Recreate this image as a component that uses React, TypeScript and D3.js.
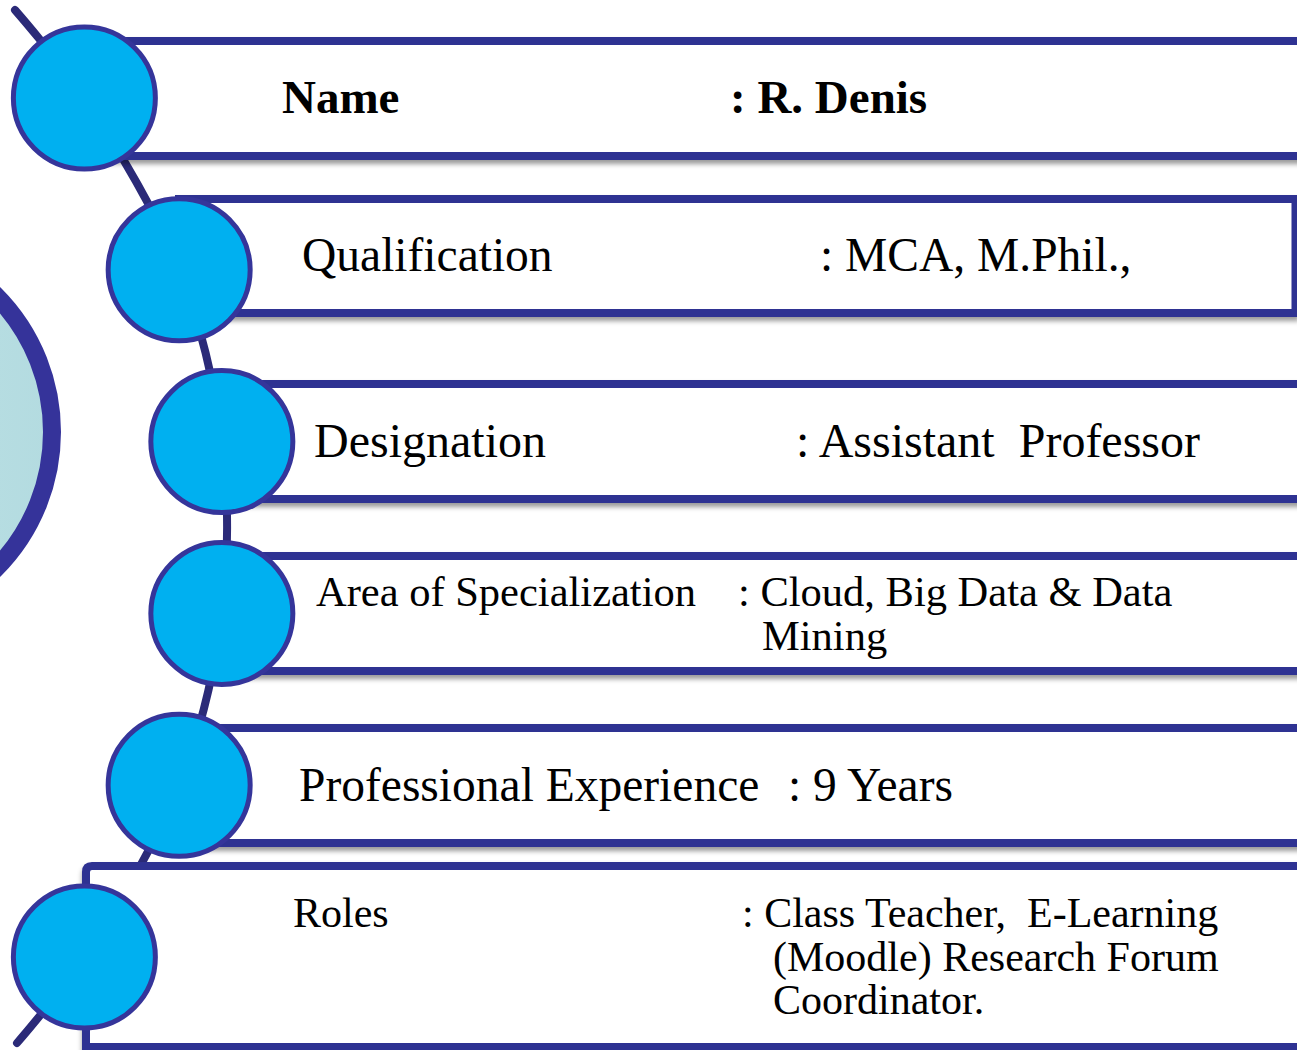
import React from 'react';
import * as d3 from 'd3';

// ---- data ----
const labels: string[] = [
  'Name',
  'Qualification',
  'Designation',
  'Area of Specialization',
  'Professional Experience',
  'Roles',
];
const values: string[][] = [
  [': R. Denis'],
  [': MCA, M.Phil.,'],
  [': Assistant  Professor'],
  [': Cloud, Big Data & Data', 'Mining'],
  [': 9 Years'],
  [': Class Teacher,  E-Learning', '(Moodle) Research Forum', 'Coordinator.'],
];

// ---- layout ----
const W = 1297;
const H = 1050;
const NAVY = '#2e3192';
const ARC = '#2b2a78';
const CIRCLE_FILL = '#00b0f0';
const CIRCLE_STROKE = '#35359a';
const FONT = "'Liberation Serif', 'Times New Roman', serif";

const ARC_CX = -491;
const ARC_CY = 527.5;
const ARC_R = 718;
const NODE_R = 71;

type RowLayout = {
  top: number;
  bottom: number;
  left: number | null;
  right: number;
  rightBorder?: boolean;
  leftBorder?: boolean;
  labelX: number;
  valueX: number;
  contX: number;
  baseline: number;
  lineGap: number;
  size: number;
  bold?: boolean;
};

const rowLayout: RowLayout[] = [
  { top: 41, bottom: 156, left: null, right: 1310, labelX: 282, valueX: 730, contX: 730, baseline: 113, lineGap: 44, size: 47, bold: true },
  { top: 199, bottom: 313, left: 175, right: 1295.5, rightBorder: true, labelX: 302, valueX: 820, contX: 820, baseline: 271, lineGap: 44, size: 47.5 },
  { top: 384, bottom: 499, left: null, right: 1310, labelX: 314, valueX: 796, contX: 796, baseline: 457, lineGap: 44, size: 48 },
  { top: 556, bottom: 671, left: null, right: 1310, labelX: 316, valueX: 738, contX: 762, baseline: 606, lineGap: 44, size: 42.5 },
  { top: 728, bottom: 843, left: null, right: 1310, labelX: 299, valueX: 788, contX: 788, baseline: 801, lineGap: 44, size: 47.5 },
  { top: 866, bottom: 1047, left: 86, right: 1310, leftBorder: true, labelX: 293, valueX: 742, contX: 773, baseline: 927, lineGap: 43.5, size: 42 },
];

const yScale = d3.scaleLinear().domain([0, labels.length - 1]).range([98, 957]);
const nodeX = (y: number) => ARC_CX + Math.sqrt(ARC_R * ARC_R - (y - ARC_CY) * (y - ARC_CY));

export default function App() {
  const nodes = labels.map((_, i) => {
    const y = yScale(i);
    return { x: nodeX(y), y };
  });

  const arcPts: [number, number][] = [
    [15, 10],
    ...nodes.map((n) => [n.x, n.y] as [number, number]),
    [17, 1043],
  ];
  const arcPath = d3.line().curve(d3.curveCatmullRom.alpha(0.5))(arcPts) || '';

  const rowPath = (r: RowLayout, left: number) => {
    const p = d3.path();
    if (r.leftBorder) {
      const rad = 6;
      p.moveTo(r.right, r.top);
      p.lineTo(left + rad, r.top);
      p.quadraticCurveTo(left, r.top, left, r.top + rad);
      p.lineTo(left, r.bottom);
      p.lineTo(r.right, r.bottom);
    } else if (r.rightBorder) {
      p.moveTo(left, r.top);
      p.lineTo(r.right, r.top);
      p.lineTo(r.right, r.bottom);
      p.lineTo(left, r.bottom);
    } else {
      p.moveTo(left, r.top);
      p.lineTo(r.right, r.top);
      p.moveTo(left, r.bottom);
      p.lineTo(r.right, r.bottom);
    }
    return p.toString();
  };

  return (
    <svg
      width={W}
      height={H}
      viewBox={`0 0 ${W} ${H}`}
      style={{ position: 'absolute', left: 0, top: 0, display: 'block', background: '#fff' }}
    >
      <defs>
        <filter id="rowShadow" x="-5%" y="-20%" width="110%" height="150%">
          <feDropShadow dx="0" dy="4" stdDeviation="2.5" floodColor="#000" floodOpacity="0.4" />
        </filter>
        <linearGradient id="bigFill" x1="0" y1="0" x2="1" y2="0">
          <stop offset="0" stopColor="#c8e9eb" />
          <stop offset="1" stopColor="#b3dbe0" />
        </linearGradient>
      </defs>
      <rect x={0} y={0} width={W} height={H} fill="#fff" />

      {/* large partial circle on the left */}
      <circle cx={-142} cy={432} r={194} fill="url(#bigFill)" stroke="#35339a" strokeWidth={18} />

      {/* connecting arc */}
      <path d={arcPath} fill="none" stroke={ARC} strokeWidth={8} strokeLinecap="round" />

      {/* rows */}
      {rowLayout.map((r, i) => {
        const left = r.left ?? nodes[i].x;
        return (
          <g key={`row${i}`} filter="url(#rowShadow)">
            <rect x={left} y={r.top} width={r.right - left} height={r.bottom - r.top} fill="#fff" />
            <path d={rowPath(r, left)} fill="none" stroke={NAVY} strokeWidth={8} strokeLinejoin="miter" />
          </g>
        );
      })}

      {/* nodes */}
      {nodes.map((n, i) => (
        <circle key={`node${i}`} cx={n.x} cy={n.y} r={NODE_R} fill={CIRCLE_FILL} stroke={CIRCLE_STROKE} strokeWidth={5} />
      ))}

      {/* texts */}
      {rowLayout.map((r, i) => (
        <g key={`txt${i}`} fontFamily={FONT} fontSize={r.size} fontWeight={r.bold ? 'bold' : 'normal'} fill="#000">
          <text x={r.labelX} y={r.baseline} style={{ whiteSpace: 'pre' }}>
            {labels[i]}
          </text>
          {values[i].map((v, j) => (
            <text
              key={j}
              x={j === 0 ? r.valueX : r.contX}
              y={r.baseline + j * r.lineGap}
              style={{ whiteSpace: 'pre' }}
            >
              {v}
            </text>
          ))}
        </g>
      ))}
    </svg>
  );
}
